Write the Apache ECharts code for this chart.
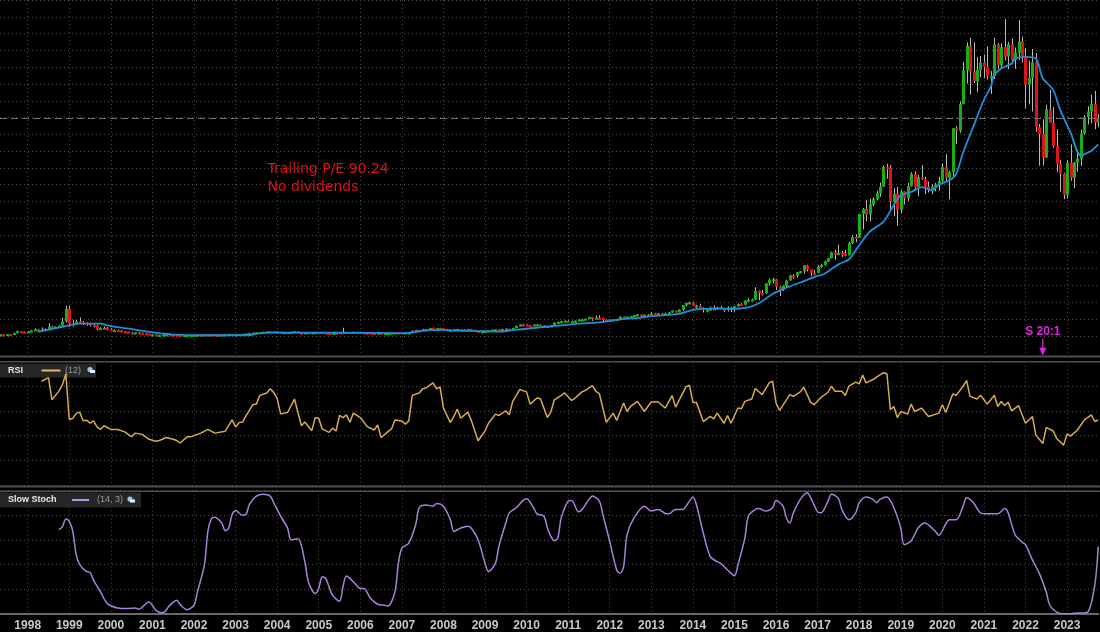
<!DOCTYPE html>
<html>
<head>
<meta charset="utf-8">
<title>Monthly price, RSI, Slow Stoch</title>
<script src="https://cdn.jsdelivr.net/npm/echarts/dist/echarts.min.js"></script>
<style>
  html, body { margin: 0; padding: 0; background: #000; }
  #chart { width: 1100px; height: 632px; }
</style>
</head>
<body>
<div id="chart"></div>
<script>
// monthly bars, May 1997 .. Oct 2023 (index 0 = 1997-05)
var months = [];
for (var k = 0; k < 318; k++) {
  var t = 1997 * 12 + 4 + k;
  var mm = t % 12 + 1;
  months.push(Math.floor(t / 12) + '-' + (mm < 10 ? '0' : '') + mm);
}

var firstOpen = 0.6;
var closes = [
  0.8, 0.6, 1.0, 0.6, 1.8, 2.8, 2.5, 2.0,                                   // 1997
  2.6, 3.2, 3.8, 3.4, 4.2, 3.6, 5.6, 5.0, 5.4, 6.0, 8.6, 16.2,              // 1998
  7.4, 7.0, 8.6, 8.2, 7.9, 7.6, 6.6, 6.2, 3.8, 4.6, 4.9, 4.0,               // 1999
  3.23, 3.44, 3.35, 2.76, 2.42, 1.82, 1.51, 2.08, 1.92, 1.43, 1.23, 0.78,   // 2000
  0.87, 0.51, 0.51, 0.79, 0.83, 0.71, 0.62, 0.45, 0.30, 0.35, 0.47, 0.54,   // 2001
  0.71, 0.73, 0.71, 0.84, 0.91, 0.81, 0.72, 0.75, 0.80, 0.97, 1.16, 0.94,   // 2002
  1.09, 1.10, 1.30, 1.43, 1.79, 1.82, 2.08, 2.32, 2.42, 2.72, 2.71, 2.63,   // 2003
  2.52, 2.15, 2.16, 2.18, 2.43, 2.72, 1.95, 1.91, 2.04, 1.71, 1.96, 2.21,   // 2004
  2.16, 1.81, 1.71, 1.62, 1.78, 1.65, 2.24, 2.14, 2.27, 1.99, 2.42, 2.36,   // 2005
  2.24, 1.87, 1.83, 1.76, 1.73, 1.93, 1.34, 1.54, 1.61, 1.90, 2.02, 1.97,   // 2006
  1.88, 1.96, 1.99, 3.07, 3.46, 3.42, 3.93, 4.00, 4.66, 4.46, 4.53, 4.63,   // 2007
  3.89, 3.22, 3.57, 3.93, 4.08, 3.67, 3.82, 4.04, 3.64, 2.86, 2.14, 2.56,   // 2008
  2.94, 3.24, 3.67, 4.03, 3.90, 4.18, 4.29, 4.06, 4.67, 5.94, 6.80, 6.73,   // 2009
  6.27, 5.92, 6.79, 6.86, 6.27, 5.46, 5.89, 6.24, 7.85, 8.26, 8.77, 9.00,   // 2010
  8.48, 8.66, 9.01, 9.79, 9.83, 10.22, 11.13, 10.76, 10.81, 10.68, 9.61, 8.66,   // 2011
  9.72, 8.98, 10.13, 11.60, 10.65, 11.42, 11.67, 12.41, 12.72, 11.64, 12.60, 12.54, // 2012
  13.28, 13.21, 13.32, 12.69, 13.46, 13.88, 15.06, 14.05, 15.63, 18.20, 19.68, 19.94, // 2013
  17.93, 18.11, 16.82, 15.21, 15.63, 16.24, 15.65, 16.95, 16.12, 15.27, 16.93, 15.52, // 2014
  17.73, 19.01, 18.61, 21.09, 21.46, 21.70, 26.81, 25.64, 25.59, 31.30, 33.24, 33.79, // 2015
  29.35, 27.63, 29.68, 32.98, 36.14, 35.78, 37.94, 38.46, 41.87, 39.49, 37.53, 37.49, // 2016
  41.17, 42.25, 44.33, 46.25, 49.73, 48.40, 49.39, 49.03, 48.07, 55.26, 58.84, 58.47, // 2017
  72.54, 75.62, 72.37, 78.31, 81.48, 84.99, 88.87, 100.64, 100.15, 79.90, 84.51, 75.10, // 2018
  85.94, 81.99, 89.04, 96.33, 88.75, 94.68, 93.34, 88.81, 86.80, 88.83, 90.04, 92.39,   // 2019
  100.44, 94.19, 97.49, 123.70, 122.12, 137.94, 158.23, 172.55, 157.44, 151.81, 158.40, 162.85, // 2020
  160.31, 154.65, 154.70, 173.37, 161.15, 172.01, 166.38, 173.54, 164.25, 168.62, 175.35, 166.72, // 2021
  149.57, 153.56, 162.99, 124.28, 120.21, 106.21, 134.95, 126.77, 113.00, 102.44, 96.54, 84.00, // 2022
  103.13, 94.23, 103.29, 105.45, 120.58, 130.36, 133.68, 138.01, 127.12, 129.80                 // 2023
];
var highs = [
  1.0, 1.0, 1.2, 1.0, 2.0, 3.2, 2.9, 2.6,
  2.9, 3.5, 4.6, 4.2, 5.0, 4.6, 7.6, 6.0, 5.8, 6.4, 11.0, 18.0,
  18.0, 9.6, 9.4, 11.0, 8.8, 8.0, 7.8, 6.8, 6.6, 5.2, 5.6, 5.3,
  4.6, 3.9, 3.8, 3.5, 2.9, 2.6, 2.5, 2.2, 2.4, 2.0, 1.7, 1.3,
  1.1, 0.9, 0.65, 0.82, 0.92, 0.9, 0.8, 0.65, 0.47, 0.4, 0.5, 0.6,
  0.75, 0.80, 0.78, 0.86, 0.95, 0.93, 0.84, 0.78, 0.85, 1.0, 1.25, 1.2,
  1.2, 1.2, 1.33, 1.5, 1.83, 1.98, 2.14, 2.36, 2.5, 2.86, 2.85, 2.75,
  2.9, 2.55, 2.3, 2.35, 2.5, 2.75, 2.75, 2.05, 2.1, 2.2, 2.0, 2.3,
  2.25, 2.2, 1.88, 1.8, 1.8, 1.85, 2.3, 4.9, 2.35, 2.3, 2.45, 2.5,
  2.4, 2.3, 1.95, 1.9, 1.9, 1.95, 1.97, 1.56, 1.7, 1.95, 2.1, 2.1,
  2.05, 2.1, 2.05, 3.1, 3.6, 3.7, 4.2, 4.1, 4.7, 5.0, 4.8, 4.8,
  4.8, 3.95, 3.6, 4.1, 4.3, 4.1, 4.0, 4.3, 4.2, 3.7, 3.0, 2.8,
  3.0, 3.4, 3.8, 4.15, 4.05, 4.3, 4.5, 4.3, 4.8, 6.2, 6.9, 7.3,
  6.9, 6.3, 6.9, 7.3, 6.9, 6.4, 6.1, 6.5, 8.0, 8.6, 8.9, 9.2,
  9.3, 9.2, 9.1, 9.9, 10.3, 10.3, 11.4, 11.2, 12.2, 12.3, 10.8, 9.9,
  9.8, 9.8, 10.2, 11.6, 11.6, 11.5, 11.9, 12.5, 13.1, 12.8, 12.7, 13.0,
  14.2, 13.7, 13.7, 13.7, 13.8, 14.2, 15.2, 15.2, 15.9, 18.4, 19.7, 20.3,
  20.4, 18.6, 19.0, 17.1, 16.3, 17.3, 18.1, 17.3, 17.8, 16.8, 17.6, 17.4,
  17.9, 19.3, 19.4, 21.3, 22.5, 22.1, 29.0, 27.0, 27.4, 31.4, 34.2, 34.6,
  34.0, 29.5, 30.1, 33.4, 36.4, 36.8, 38.0, 38.7, 42.1, 42.4, 39.6, 39.2,
  42.2, 43.0, 44.9, 46.6, 50.1, 51.4, 54.2, 50.5, 51.1, 56.1, 60.1, 60.5,
  72.6, 76.2, 80.9, 81.7, 82.5, 86.5, 91.4, 101.5, 102.5, 101.7, 87.9, 88.8,
  87.0, 86.0, 91.1, 97.4, 98.0, 95.8, 101.8, 94.7, 92.0, 90.4, 91.0, 94.7,
  102.8, 108.2, 98.4, 123.8, 125.0, 139.6, 163.2, 174.8, 177.6, 174.8, 166.0, 166.7,
  167.5, 172.5, 157.7, 177.7, 174.4, 174.3, 188.65, 175.0, 177.1, 171.7, 188.1, 178.3,
  171.4, 163.8, 170.8, 168.4, 126.2, 129.0, 137.7, 146.6, 136.5, 123.0, 104.6, 97.2,
  104.6, 114.0, 103.5, 110.9, 122.9, 131.5, 136.7, 143.6, 145.9, 132.0
];
var lows = [
  0.4, 0.4, 0.5, 0.4, 0.6, 1.8, 2.2, 1.8,
  1.9, 2.4, 3.0, 2.8, 3.3, 2.6, 3.5, 4.6, 4.6, 5.0, 5.8, 8.0,
  5.4, 5.6, 6.8, 7.6, 6.6, 6.0, 5.6, 5.0, 3.2, 3.6, 4.2, 3.2,
  3.0, 3.0, 2.8, 2.1, 2.2, 1.6, 1.4, 1.4, 1.7, 1.3, 1.1, 0.75,
  0.7, 0.5, 0.45, 0.43, 0.7, 0.6, 0.55, 0.42, 0.28, 0.28, 0.32, 0.42,
  0.52, 0.66, 0.66, 0.68, 0.80, 0.74, 0.62, 0.66, 0.70, 0.76, 0.95, 0.92,
  0.93, 1.0, 1.07, 1.27, 1.40, 1.70, 1.78, 2.0, 2.2, 2.4, 2.5, 2.5,
  2.45, 2.1, 1.9, 2.0, 2.1, 2.4, 1.9, 1.8, 1.85, 1.6, 1.7, 1.95,
  2.0, 1.75, 1.64, 1.5, 1.58, 1.6, 1.62, 2.1, 2.0, 1.9, 1.98, 2.3,
  2.2, 1.8, 1.75, 1.7, 1.6, 1.6, 1.3, 1.3, 1.5, 1.55, 1.85, 1.85,
  1.85, 1.8, 1.8, 1.95, 2.95, 3.2, 3.4, 3.5, 3.95, 4.4, 3.9, 4.5,
  3.4, 3.1, 3.0, 3.5, 3.9, 3.6, 3.0, 3.7, 3.2, 2.4, 1.75, 2.0,
  2.35, 2.9, 3.0, 3.6, 3.7, 3.8, 3.8, 3.9, 3.95, 4.6, 5.8, 6.5,
  5.7, 5.8, 5.9, 6.6, 5.8, 5.4, 5.3, 5.9, 6.2, 7.6, 7.9, 8.6,
  8.1, 8.4, 8.0, 8.9, 9.6, 9.4, 10.0, 8.8, 10.1, 9.7, 8.9, 8.5,
  8.6, 8.8, 8.9, 9.5, 10.6, 10.4, 10.7, 11.5, 12.3, 11.0, 11.3, 12.0,
  12.4, 12.7, 12.8, 12.3, 12.6, 12.9, 13.8, 13.9, 14.0, 14.8, 17.6, 19.0,
  17.8, 16.2, 16.2, 14.0, 14.1, 15.4, 15.5, 15.4, 15.9, 14.3, 14.6, 14.3,
  14.3, 17.3, 18.3, 18.1, 20.9, 21.0, 21.4, 21.3, 24.1, 25.0, 30.0, 31.4,
  27.4, 23.8, 26.8, 29.1, 32.9, 34.0, 34.7, 37.2, 37.1, 38.3, 35.5, 35.9,
  37.3, 40.4, 41.7, 44.0, 46.2, 45.3, 48.0, 47.0, 47.4, 47.8, 54.6, 55.8,
  58.5, 63.3, 68.3, 68.1, 77.3, 80.7, 82.8, 88.9, 93.5, 73.8, 71.3, 65.4,
  73.0, 78.3, 80.5, 89.0, 86.3, 83.1, 92.9, 84.4, 85.4, 84.3, 86.2, 86.6,
  91.5, 92.4, 81.3, 94.5, 114.3, 121.0, 139.4, 150.1, 143.6, 150.6, 145.0, 154.0,
  153.4, 152.6, 144.1, 152.9, 158.8, 158.9, 164.0, 158.8, 161.7, 159.0, 164.2, 163.0,
  135.4, 138.0, 133.6, 121.6, 101.3, 101.4, 105.9, 126.7, 112.1, 97.7, 85.9, 81.4,
  81.7, 92.4, 88.1, 97.7, 101.2, 119.9, 125.9, 126.4, 123.0, 124.2
];

// moving average, RSI(12) and Slow Stoch(14,3): [month index, value]
var maPoints = [
  [11, 2.4], [15, 4], [20, 6.3], [23, 7.3], [29, 7.3], [31, 6.3], [35, 4.9], [39, 3.8], [43, 2.4],
  [47, 1.4], [50, 0.8], [58, 0.4], [72, 0.4], [74, 1.4], [79, 2.0], [90, 2.0], [100, 1.9], [110, 1.8],
  [116, 1.6], [124, 3.4], [128, 3.6], [132, 3.1], [140, 2.8], [145, 2.6], [148, 3.4], [156, 5.1],
  [165, 6.9], [173, 8.1], [179, 9.8], [185, 10.9], [188, 11.8], [196, 13.1], [200, 15.5], [207, 16.4],
  [211, 16.1], [216, 17], [219, 19.4], [223, 25], [226, 27.9], [231, 31.8], [236, 35.7], [238, 37],
  [242, 42.6], [245, 45.5], [248, 54], [251, 62], [255, 68], [258, 78], [260, 83.8], [263, 85.7],
  [266, 88.6], [269, 86.7], [271, 90], [274, 92.6], [276, 96.5], [278, 109.2], [281, 124.9],
  [284, 140.6], [286, 148.5], [287, 155.3], [289, 159.2], [292, 162.2], [293, 165.1], [296, 166.1],
  [299, 165.1], [301, 153.4], [304, 146.5], [306, 134.7], [309, 121], [312, 107.3], [314, 109.2],
  [315, 110.2], [317, 114.1]
];
var rsiPoints = [
  [12, 84], [14, 87], [15, 69], [17, 76], [18, 81], [19, 90], [20, 53], [21, 54], [22, 58], [23, 59],
  [24, 52], [25, 52.5], [26, 50], [27, 52], [28, 47], [29, 45], [30, 48], [32, 45], [34, 45], [36, 43],
  [38, 39], [39, 42], [41, 41], [43, 37], [45, 35.5], [46, 36], [48, 38.5], [50, 37], [51, 36], [52, 34],
  [54, 39], [55, 39], [57, 41], [58, 42], [60, 45], [62, 42], [65, 43.6], [67, 52.7], [68, 47], [69, 50.5],
  [70, 51], [71, 56], [73, 65], [74, 65.5], [75, 72.6], [77, 74.5], [78, 78], [79, 75], [80, 70],
  [81, 57.6], [83, 58.7], [85, 69.6], [87, 48], [88, 51], [90, 44], [91, 54.6], [92, 54], [93, 45.4],
  [95, 42.6], [96, 46], [97, 43.7], [98, 56.3], [99, 54.6], [100, 56.8], [101, 50.8], [102, 58.2],
  [104, 54.6], [106, 47.3], [108, 44.5], [109, 48.6], [110, 38.5], [112, 43.2], [113, 45.4], [114, 52.7],
  [116, 51.9], [117, 49.2], [118, 51.9], [119, 72.6], [121, 74.5], [122, 78], [123, 78.6], [125, 82.7],
  [126, 77.8], [127, 79.4], [128, 62.3], [130, 50.5], [131, 55.5], [132, 61.4], [133, 54], [135, 59],
  [136, 52.7], [138, 35.8], [140, 43.7], [141, 50], [143, 57.4], [144, 56.3], [146, 60], [147, 56.8],
  [148, 67.7], [150, 77.3], [152, 75.4], [153, 65.5], [155, 70.4], [156, 69.9], [158, 54.6], [159, 59.2],
  [160, 69], [162, 72.6], [163, 74.5], [165, 68.5], [166, 70.4], [168, 75.4], [169, 76.7], [171, 80.5],
  [172, 75.9], [173, 74], [175, 50.8], [177, 58.2], [178, 52.2], [180, 66.4], [181, 59.5], [182, 63.6],
  [184, 67.7], [186, 59.5], [187, 63.6], [188, 67.2], [190, 67.2], [192, 62.3], [194, 72.4], [195, 63.1],
  [198, 79.4], [199, 80.8], [200, 66.9], [201, 66.9], [203, 51.4], [205, 55.5], [206, 53.5], [207, 58.2],
  [209, 50], [210, 56.3], [211, 50], [213, 62.3], [214, 61.7], [215, 67.7], [217, 69.6], [218, 78.1],
  [220, 73.2], [222, 82.7], [223, 84.1], [224, 66.4], [225, 60.4], [228, 73.2], [229, 71.8], [231, 75.4],
  [232, 79.2], [234, 66.9], [235, 65], [237, 71], [239, 75.1], [240, 80], [241, 75.9], [243, 75.9],
  [244, 72.4], [245, 80], [247, 83.3], [248, 81.9], [249, 89], [250, 82.7], [252, 85.4], [253, 87.4],
  [255, 90.9], [256, 90.1], [257, 60.9], [258, 63.6], [259, 54.6], [260, 59.5], [262, 57.4], [263, 65.5],
  [264, 59.5], [266, 62.3], [268, 55.5], [271, 58.2], [272, 65], [273, 58.7], [275, 73.7], [276, 72.6],
  [278, 80], [279, 84.6], [280, 71.8], [282, 69.6], [283, 72.6], [285, 65.5], [287, 72.6], [288, 63.6],
  [289, 67.7], [290, 64.4], [291, 66.9], [292, 60.1], [294, 64.2], [296, 50], [298, 55.5], [299, 40.4],
  [301, 33.6], [302, 46.7], [304, 43.7], [305, 37.7], [307, 32.3], [308, 41.3], [309, 39.6], [311, 44.5],
  [313, 52.7], [315, 56.8], [316, 51.4], [317, 52.7]
];
var stochPoints = [
  [17, 68.3], [18, 70.5], [19, 77], [20, 75], [21, 67], [22, 48], [23, 40], [25, 34.3], [26, 33.7],
  [27, 27.5], [29, 18], [31, 8.4], [34, 4.9], [37, 4.4], [39, 4.9], [40, 3.8], [43, 9.8], [45, 3],
  [47, 1.1], [49, 7], [51, 11.2], [52, 7.6], [54, 3.5], [56, 7.1], [57, 17.9], [59, 39.7], [60, 66.9],
  [61, 77], [62, 78.4], [64, 73.7], [65, 67.5], [66, 69.6], [67, 80.5], [68, 83.8], [70, 80], [71, 80.5],
  [72, 88.7], [74, 95.5], [76, 96.9], [78, 95.5], [79, 90.1], [81, 79.2], [83, 69.6], [84, 60.1],
  [86, 60.9], [88, 42.4], [89, 26.1], [91, 16.6], [92, 20.7], [93, 30.2], [94, 28.8], [96, 15.2],
  [98, 10.3], [99, 22], [100, 30.7], [102, 26.1], [104, 20.7], [105, 20.7], [107, 12.5], [109, 7.9],
  [111, 7.1], [112, 6.5], [114, 17.9], [115, 41.1], [116, 53.3], [118, 57.4], [120, 72.4], [121, 86],
  [123, 88.2], [125, 87.3], [126, 89.5], [128, 87.3], [130, 76.4], [131, 66.9], [133, 69.6], [135, 71],
  [136, 69.6], [138, 60.1], [140, 41.1], [141, 34.3], [143, 41.1], [144, 54.7], [146, 73.7], [147, 81.9],
  [149, 86], [151, 92], [152, 93.3], [154, 86], [155, 81.1], [157, 79.2], [158, 69.6], [159, 62.9],
  [160, 59.3], [161, 61.5], [162, 77.8], [164, 91.4], [165, 92], [167, 82.7], [168, 84.6], [170, 92.8],
  [171, 95.5], [173, 91.4], [174, 80.5], [176, 58.8], [178, 35.6], [179, 32.9], [180, 38.4], [181, 64.2],
  [183, 77.8], [186, 87.3], [188, 83.3], [190, 84.6], [192, 81.4], [193, 81.1], [195, 84.6], [197, 84.6],
  [199, 91.4], [200, 94.7], [201, 88.7], [203, 65.6], [205, 46.5], [207, 42.4], [208, 41.1], [210, 35.6],
  [212, 31], [213, 39.7], [215, 61.5], [216, 79.2], [218, 84.6], [219, 85.4], [221, 83.3], [223, 86],
  [224, 92], [226, 87.3], [227, 77.8], [228, 73.7], [229, 81.9], [231, 92.8], [233, 98.2], [234, 94.1],
  [236, 82.7], [237, 81.9], [239, 91.4], [240, 96.9], [242, 93.6], [243, 84.6], [245, 76.4], [247, 81.9],
  [248, 90.1], [250, 94.7], [252, 92.8], [253, 90.1], [254, 92.8], [256, 94.7], [258, 86], [260, 69.6],
  [261, 56.1], [263, 59.3], [265, 69.6], [267, 73.7], [269, 69.6], [270, 66.9], [271, 63.7], [273, 72.9],
  [274, 76.4], [276, 76.4], [278, 87.3], [279, 94.1], [281, 90.1], [283, 81.9], [285, 81.1], [288, 81.1],
  [290, 85.4], [291, 81.9], [293, 64.2], [295, 58.2], [296, 56.1], [298, 43.8], [300, 32.9], [302, 17.9],
  [303, 7.1], [305, 1.6], [307, 0.3], [309, 0.3], [311, 0.8], [312, 0.8], [314, 1.6], [316, 23.4],
  [317, 54.7]
];

var splitMonth = '2022-06';
var lastPrice = closes[closes.length - 1];

var GREEN = '#16b016', RED = '#e3121a', WICK = '#b8b8b8', GRIDC = '#4a4a4a', MAGENTA = '#e025e0';

// candles: open is the previous month's close
var candles = closes.map(function (c, i) {
  var o = i === 0 ? firstOpen : closes[i - 1];
  return [i, o, c, Math.min(lows[i], o, c), Math.max(highs[i], o, c)];
});

function renderCandle(params, api) {
  var i = api.value(0), o = api.value(1), c = api.value(2);
  var pO = api.coord([i, o]), pC = api.coord([i, c]);
  var pL = api.coord([i, api.value(3)]), pH = api.coord([i, api.value(4)]);
  var x = Math.round(pO[0]);
  var top = Math.min(pO[1], pC[1]);
  var h = Math.max(Math.abs(pO[1] - pC[1]), 2);
  return {
    type: 'group',
    children: [
      { type: 'rect', shape: { x: x, y: pH[1], width: 1, height: pL[1] - pH[1] }, style: { fill: WICK } },
      { type: 'rect', shape: { x: x - 1, y: top, width: 3, height: h }, style: { fill: c >= o ? GREEN : RED } }
    ]
  };
}

function isJan(idx, val) { return val.slice(5) === '01'; }

function xAxisFor(g) {
  return {
    type: 'category', gridIndex: g, data: months, boundaryGap: false,
    axisTick: { show: false },
    axisLine: { show: g === 2, lineStyle: { color: '#6a6a6a', width: 2 } },
    axisLabel: {
      show: g === 2, interval: isJan, margin: 6,
      formatter: function (v) { return v.slice(0, 4); },
      color: '#c8c8c8', fontSize: 12, fontWeight: 'bold', fontFamily: 'Liberation Sans'
    },
    splitLine: { show: true, interval: isJan, lineStyle: { color: GRIDC, type: [1, 3] } }
  };
}
function yAxisFor(g, min, max, step, lineColors) {
  return {
    type: 'value', gridIndex: g, min: min, max: max, interval: step,
    axisLabel: { show: false }, axisLine: { show: false }, axisTick: { show: false },
    splitLine: { show: true, lineStyle: { color: lineColors || GRIDC, type: [1, 3] } }
  };
}

// price panel: no dotted line on the bottom (-10) tick, which sits under the panel edge
var priceLineColors = ['rgba(0,0,0,0)'];
for (var n = 1; n <= 21; n++) priceLineColors.push(GRIDC);

function wrench(x, y) {
  return [
    { type: 'circle', z: 1, shape: { cx: x + 3, cy: y - 1.5, r: 2.6 }, style: { fill: '#9cc6ee' } },
    { type: 'rect', z: 1, shape: { x: x + 3, y: y - 1, width: 5, height: 3 }, style: { fill: '#e8f2fb' } }
  ];
}
function sepLine(y, h) {
  return { type: 'rect', z: 10, shape: { x: 0, y: y, width: 1100, height: h }, style: { fill: '#4f4f4f' } };
}
function label(text, x, y, font, color) {
  return { type: 'text', z: 1, style: { text: text, x: x, y: y, font: font, fill: color, textVerticalAlign: 'middle' } };
}

var chart = echarts.init(document.getElementById('chart'), null, { renderer: 'canvas' });

var option = {
  backgroundColor: '#000',
  animation: false,
  grid: [
    { left: -1.76, right: 1.76, top: -4.3, height: 357 },
    { left: -1.76, right: 1.76, top: 361.5, height: 123.5 },
    { left: -1.76, right: 1.76, top: 490.5, height: 124 }
  ],
  xAxis: [xAxisFor(0), xAxisFor(1), xAxisFor(2)],
  yAxis: [yAxisFor(0, -10, 200, 10, priceLineColors), yAxisFor(1, 0, 100, 20), yAxisFor(2, 0, 100, 20)],
  series: [
    {
      name: 'Price', type: 'custom', xAxisIndex: 0, yAxisIndex: 0,
      renderItem: renderCandle, data: candles, clip: true,
      encode: { x: 0, y: [1, 2, 3, 4] }, z: 2
    },
    {
      name: 'MA', type: 'line', xAxisIndex: 0, yAxisIndex: 0, data: maPoints,
      showSymbol: false, smooth: 0.3, z: 3,
      lineStyle: { color: '#1f8fd9', width: 1.8 },
      markLine: {
        silent: true, symbol: 'none', label: { show: false },
        lineStyle: { color: '#707070', type: [7, 4], width: 1 },
        data: [{ yAxis: lastPrice }]
      },
      markPoint: {
        silent: true,
        symbol: 'path://M2.5,0 L3.5,0 L3.5,9 L6,9 L3,17 L0,9 L2.5,9 Z',
        symbolSize: [7, 17],
        itemStyle: { color: MAGENTA },
        label: {
          show: true, position: 'top', distance: 1, formatter: 'S 20:1',
          color: MAGENTA, fontSize: 12, fontWeight: 'bold', fontFamily: 'Liberation Sans'
        },
        data: [{ coord: [splitMonth, -6.7] }]
      }
    },
    {
      name: 'RSI', type: 'line', xAxisIndex: 1, yAxisIndex: 1, data: rsiPoints,
      showSymbol: false, z: 3, lineStyle: { color: '#d8aa52', width: 1.5 }
    },
    {
      name: 'Slow Stoch', type: 'line', xAxisIndex: 2, yAxisIndex: 2, data: stochPoints,
      showSymbol: false, smooth: 0.3, z: 3, lineStyle: { color: '#a783d8', width: 1.5 }
    }
  ],
  graphic: [
    sepLine(355.5, 2), sepLine(361, 1.5), sepLine(485.5, 2), sepLine(490.5, 1.5),
    { type: 'rect', z: 1, shape: { x: 0, y: 363.5, width: 96, height: 14 }, style: { fill: '#262626' } },
    label('RSI', 8, 370.5, 'bold 9px "Liberation Sans"', '#e6e6e6'),
    { type: 'rect', z: 1, shape: { x: 41.5, y: 369.5, width: 19, height: 2 }, style: { fill: '#e2bb66' } },
    label('(12)', 65, 370.5, '9px "Liberation Sans"', '#9a9a9a'),
    { type: 'rect', z: 1, shape: { x: 0, y: 492.5, width: 141, height: 15 }, style: { fill: '#262626' } },
    label('Slow Stoch', 8, 500, 'bold 9px "Liberation Sans"', '#e6e6e6'),
    { type: 'rect', z: 1, shape: { x: 72, y: 499, width: 17, height: 2 }, style: { fill: '#b896e4' } },
    label('(14, 3)', 97, 500, '9px "Liberation Sans"', '#9a9a9a'),
    label('Trailing P/E 90.24', 267.5, 169.5, '14px "DejaVu Sans"', '#e60d12'),
    label('No dividends', 267.5, 187.2, '14px "DejaVu Sans"', '#e60d12')
  ].concat(wrench(87, 371), wrench(127, 500.5))
};

chart.setOption(option);
</script>
</body>
</html>
